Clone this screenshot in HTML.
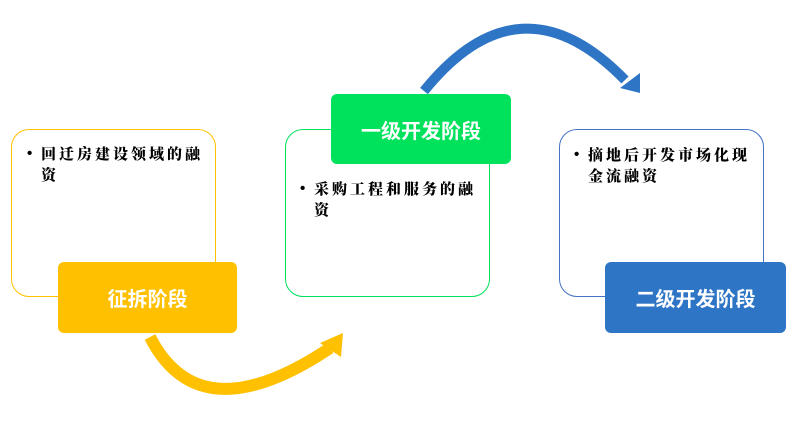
<!DOCTYPE html>
<html><head><meta charset="utf-8"><style>
body{margin:0;width:799px;height:434px;background:#fff;position:relative;overflow:hidden;font-family:"Liberation Sans","Noto Sans CJK SC",sans-serif}
.b{position:absolute;border-radius:18px;background:#fff;box-sizing:border-box}
.l{position:absolute;border-radius:6px;color:#fff;font-weight:bold;font-size:20px;display:flex;align-items:center;justify-content:center}
.t{position:absolute;font-family:"Noto Serif CJK SC",serif;font-weight:900;font-size:15px;line-height:21px;letter-spacing:3px;color:#000}
.t:before{content:"•";position:absolute;left:-14px;font-family:"Liberation Sans",sans-serif}
</style></head><body>
<svg width="799" height="434" style="position:absolute;left:0;top:0">
<path d="M150 337 Q 200 435 330 348" stroke="#FFC000" stroke-width="12" fill="none"/>
<polygon points="343,333 341,357 320,343" fill="#FFC000"/>
<path d="M424 91 Q 520 -28 625 80" stroke="#2E75C6" stroke-width="10" fill="none"/>
<polygon points="640,93 640,73 620,88" fill="#2E75C6"/>
</svg>
<div class="b" style="left:11px;top:129px;width:205px;height:168px;border:1px solid #FFC000"></div>
<div class="b" style="left:285px;top:129px;width:205px;height:168px;border:1px solid #00E05B"></div>
<div class="b" style="left:559px;top:129px;width:205px;height:168px;border:1px solid #4472C4"></div>
<div class="t" style="left:41px;top:143px;width:170px">回迁房建设领域的融资</div>
<div class="t" style="left:314px;top:178px;width:170px">采购工程和服务的融资</div>
<div class="t" style="left:588px;top:144px;width:170px">摘地后开发市场化现金流融资</div>
<div class="l" style="left:58px;top:262px;width:179px;height:71px;background:#FFC000">征拆阶段</div>
<div class="l" style="left:331px;top:94px;width:180px;height:70px;background:#00E25B">一级开发阶段</div>
<div class="l" style="left:605px;top:262px;width:181px;height:71px;background:#2E75C6">二级开发阶段</div>
</body></html>
